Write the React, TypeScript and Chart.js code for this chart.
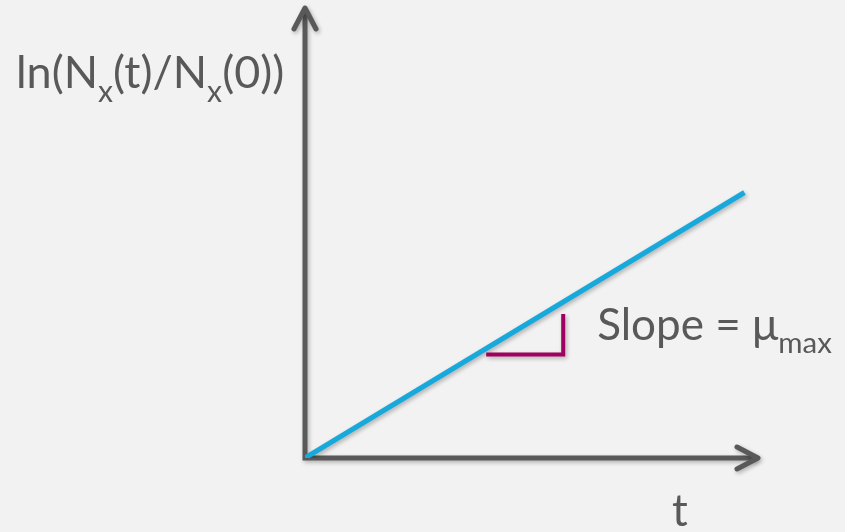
import React, { useEffect, useRef } from "react";
import { Chart, registerables } from "chart.js";

Chart.register(...registerables);

// Growth curve in log space: ln(Nx(t)/Nx(0)) rises linearly with t
const T_VALUES = [0, 9.7];
const LN_VALUES = [0, 5.9];

// Slope marker (run then rise) drawn under the line
const SLOPE_T = [4.0, 5.7, 5.7];
const SLOPE_LN = [2.3, 2.3, 3.2];

// Axis extents (arrow tips)
const T_MAX = 10;
const LN_MAX = 10;

const AXIS_COLOR = "#595959";
const LINE_COLOR = "#18a9dc";
const SLOPE_COLOR = "#a0005f";
const BG = "#f2f2f2";
const FONT = "Lato, 'Open Sans', sans-serif";

const shadowPlugin = {
  id: "softShadow",
  beforeDatasetDraw(chart: any) {
    const ctx = chart.ctx;
    ctx.save();
    ctx.shadowColor = "rgba(0,0,0,0.28)";
    ctx.shadowBlur = 4;
    ctx.shadowOffsetX = 1.5;
    ctx.shadowOffsetY = 2;
  },
  afterDatasetDraw(chart: any) {
    chart.ctx.restore();
  },
};

function drawSubText(
  ctx: CanvasRenderingContext2D,
  parts: { text: string; sub?: boolean }[],
  x: number,
  y: number,
  size: number
) {
  let cx = x;
  for (const p of parts) {
    const s = p.sub ? size * 0.67 : size;
    ctx.font = `${s}px ${FONT}`;
    ctx.fillText(p.text, cx, p.sub ? y + size * 0.3 : y);
    cx += ctx.measureText(p.text).width;
  }
}

const axesPlugin = {
  id: "arrowAxes",
  beforeDraw(chart: any) {
    const { ctx, width, height } = chart;
    ctx.save();
    ctx.fillStyle = BG;
    ctx.fillRect(0, 0, width, height);
    ctx.restore();
  },
  beforeDatasetsDraw(chart: any) {
    const { ctx, scales } = chart;
    const xs = scales.x;
    const ys = scales.y;
    const ox = xs.getPixelForValue(0);
    const oy = ys.getPixelForValue(0);
    const xTip = xs.getPixelForValue(T_MAX);
    const yTip = ys.getPixelForValue(LN_MAX);
    const head = 21;
    const half = 11;
    ctx.save();
    ctx.shadowColor = "rgba(0,0,0,0.28)";
    ctx.shadowBlur = 4;
    ctx.shadowOffsetX = 1.5;
    ctx.shadowOffsetY = 2;
    ctx.strokeStyle = AXIS_COLOR;
    ctx.lineWidth = 5;
    ctx.lineJoin = "miter";
    ctx.lineCap = "butt";
    ctx.beginPath();
    ctx.moveTo(ox, yTip + 2);
    ctx.lineTo(ox, oy);
    ctx.lineTo(xTip - 2, oy);
    ctx.stroke();
    ctx.lineCap = "round";
    ctx.lineJoin = "round";
    ctx.beginPath();
    ctx.moveTo(ox - half, yTip + head);
    ctx.lineTo(ox, yTip);
    ctx.lineTo(ox + half, yTip + head);
    ctx.stroke();
    ctx.beginPath();
    ctx.moveTo(xTip - head, oy - half);
    ctx.lineTo(xTip, oy);
    ctx.lineTo(xTip - head, oy + half);
    ctx.stroke();
    ctx.restore();
  },
  afterDraw(chart: any) {
    const { ctx, scales } = chart;
    const xs = scales.x;
    const ys = scales.y;
    const size = 44;
    ctx.save();
    ctx.fillStyle = AXIS_COLOR;
    ctx.textBaseline = "alphabetic";
    ctx.textAlign = "left";
    drawSubText(
      ctx,
      [
        { text: "ln(N" },
        { text: "x", sub: true },
        { text: "(t)/N" },
        { text: "x", sub: true },
        { text: "(0))" },
      ],
      16,
      88,
      45
    );
    drawSubText(
      ctx,
      [{ text: "Slope = μ" }, { text: "max", sub: true }],
      xs.getPixelForValue(SLOPE_T[2]) + 34,
      340,
      size
    );
    ctx.font = `${size}px ${FONT}`;
    ctx.fillText("t", xs.getPixelForValue(8.1), ys.getPixelForValue(0) + 68);
    ctx.restore();
  },
};

export default function App() {
  const ref = useRef<HTMLCanvasElement | null>(null);
  useEffect(() => {
    if (!ref.current) return;
    const chart = new Chart(ref.current, {
      type: "line",
      data: {
        datasets: [
          {
            data: SLOPE_T.map((t, i) => ({ x: t, y: SLOPE_LN[i] })),
            borderColor: SLOPE_COLOR,
            borderWidth: 4,
            borderJoinStyle: "miter",
            pointRadius: 0,
            tension: 0,
            fill: false,
          },
          {
            data: T_VALUES.map((t, i) => ({ x: t, y: LN_VALUES[i] })),
            borderColor: LINE_COLOR,
            borderWidth: 5,
            pointRadius: 0,
            tension: 0,
            fill: false,
          },
        ],
      },
      options: {
        responsive: false,
        animation: false,
        layout: { padding: { left: 305, right: 87, top: 8, bottom: 74 } },
        plugins: { legend: { display: false }, tooltip: { enabled: false } },
        scales: {
          x: { type: "linear", min: 0, max: T_MAX, display: false },
          y: { type: "linear", min: 0, max: LN_MAX, display: false },
        },
      },
      plugins: [axesPlugin, shadowPlugin],
    });
    return () => chart.destroy();
  }, []);
  return (
    <div
      style={{
        position: "fixed",
        left: 0,
        top: 0,
        width: 845,
        height: 532,
        background: BG,
      }}
    >
      <canvas ref={ref} width={845} height={532} />
    </div>
  );
}
